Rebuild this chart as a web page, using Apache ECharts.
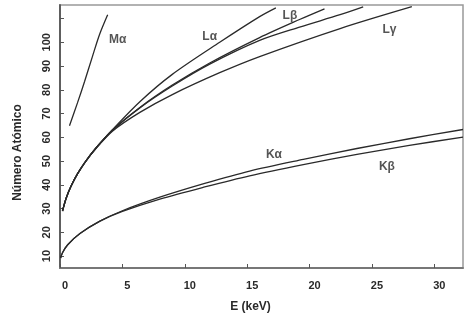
<!DOCTYPE html>
<html>
<head>
<meta charset="utf-8">
<script src="https://cdn.jsdelivr.net/npm/echarts@6/dist/echarts.min.js"></script>
<style>html,body{margin:0;padding:0;background:#fff}#c{width:470px;height:318px}</style>
</head>
<body>
<div id="c"></div>
<script>
// Data: [E (keV), Número Atómico]
var xTicks = [0, 5, 10, 15, 20, 25, 30];
var yLabels = [10, 20, 30, 40, 50, 60, 70, 80, 90, 100];
var yTicks = [10, 20, 30, 40, 50, 60, 70, 80, 90, 100, 110];

var Ma  = [[0.76,64.9],[1.4,74.5],[1.97,83.5],[2.61,94.2],[3.17,103.3],[3.82,111.6]];
var La  = [[0.2,29],[0.5,34.5],[0.9,39.6],[1.4,44.6],[2,49.5],[2.9,55.6],[4.2,63.2],[6.4,75],[9,86.5],[12.8,100],[16,110.8],[17.3,114.5]];
var Lb1 = [[0.2,29],[0.5,34.5],[0.9,39.6],[1.4,44.6],[2,49.5],[2.9,55.6],[4.2,63],[6.4,72.6],[9,82],[12,91.3],[16,102],[19.2,109.6],[21.2,114.1]];
var Lb2 = [[0.2,29],[0.5,34.5],[0.9,39.6],[1.4,44.6],[2,49.5],[2.9,55.6],[4.2,63],[6.4,72.4],[9,81.6],[12,90.8],[16,100.8],[19.2,106.4],[22.45,111.6],[24.3,114.9]];
var Lg  = [[0.2,29],[0.5,34.5],[0.9,39.6],[1.4,44.6],[2,49.5],[2.9,55.4],[4.2,62.6],[6.4,70.5],[9,78],[12.8,87.2],[16,94],[22.45,105.8],[28.2,115]];
var Ka  = [[0.05,9.2],[0.2,11.4],[0.6,14.7],[1.6,19.5],[3.2,24.7],[5,29.1],[8,34.8],[11.6,40.6],[15.2,45.8],[19.5,50.7],[23.8,55.3],[28,59.4],[32.3,63.3]];
var Kb  = [[0.05,9.2],[0.2,11.4],[0.6,14.7],[1.6,19.5],[3.2,24.7],[5,28.8],[8,34],[11.6,39.1],[15.2,43.8],[19.5,48.5],[23.8,52.8],[28,56.6],[32.3,60.1]];

var lineLabels = [
  {name:'Mα', value:[4.62,101.2]},
  {name:'Lα', value:[12.0,102.5]},
  {name:'Lβ', value:[18.43,111.2]},
  {name:'Lγ', value:[26.4,105.4]},
  {name:'Kα', value:[17.15,52.9]},
  {name:'Kβ', value:[26.2,47.5]}
];

var FONT = 'Liberation Sans, Arial, sans-serif';
var INK = '#2a2a2a';

function lineSeries(name, data) {
  return {
    name: name, type: 'line', data: data, smooth: 0.3, showSymbol: false,
    lineStyle: {color: INK, width: 1.3}, silent: true, z: 3
  };
}

var chart = echarts.init(document.getElementById('c'), null, {renderer: 'canvas'});
chart.setOption({
  animation: false,
  backgroundColor: '#fff',
  grid: {left: 60, right: 7, top: 5, bottom: 45, show: true, borderColor: '#999', borderWidth: 1.5, containLabel: false},
  xAxis: {
    type: 'value', min: 0, max: 32.3,
    name: 'E (keV)', nameLocation: 'middle', nameGap: 33,
    nameTextStyle: {fontFamily: FONT, fontWeight: 'bold', fontSize: 12, color: INK, padding: [0, 22, 0, 0]},
    axisLine: {show: true, lineStyle: {color: '#777', width: 1.8}},
    axisTick: {show: true, inside: true, length: 4, customValues: xTicks, lineStyle: {color: '#555'}},
    axisLabel: {customValues: xTicks, fontFamily: FONT, fontWeight: 'bold', fontSize: 11, color: INK, margin: 12, padding: [0, 0, 0, 10]},
    splitLine: {show: false}
  },
  yAxis: {
    type: 'value', min: 5, max: 115.7,
    name: 'Número Atómico', nameLocation: 'middle', nameGap: 36,
    nameTextStyle: {fontFamily: FONT, fontWeight: 'bold', fontSize: 12, color: INK, padding: [0, 32, 0, 0]},
    axisLine: {show: true, lineStyle: {color: '#555', width: 1.8}},
    axisTick: {show: true, inside: true, length: 4, customValues: yTicks, lineStyle: {color: '#555'}},
    axisLabel: {customValues: yLabels, rotate: 90, fontFamily: FONT, fontWeight: 'bold', fontSize: 11, color: INK, margin: 8},
    splitLine: {show: false}
  },
  series: [
    lineSeries('Mα', Ma),
    lineSeries('Lα', La),
    lineSeries('Lβ1', Lb1),
    lineSeries('Lβ2', Lb2),
    lineSeries('Lγ', Lg),
    lineSeries('Kα', Ka),
    lineSeries('Kβ', Kb),
    {
      type: 'scatter', data: lineLabels, symbolSize: 0, silent: true, z: 5,
      label: {show: true, position: 'inside', formatter: function(p){return p.name;},
              fontFamily: FONT, fontWeight: 'bold', fontSize: 12, color: INK}
    }
  ]
});
</script>
</body>
</html>
